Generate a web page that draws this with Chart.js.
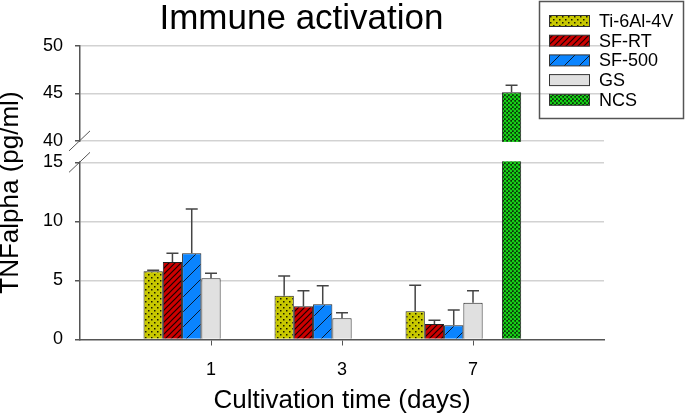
<!DOCTYPE html>
<html>
<head>
<meta charset="utf-8">
<title>Immune activation</title>
<script src="https://cdn.jsdelivr.net/npm/chart.js@4.4.0/dist/chart.umd.min.js"></script>
<style>
  html, body { margin: 0; padding: 0; background: #fff; }
</style>
</head>
<body>
<canvas id="chart" width="685" height="416"></canvas>
<script>
// values (TNFalpha, pg/ml)
const days = ['1', '3', '7'];
const tiValues = [5.78, 3.71, 2.39];
const tiErrors = [0.08, 1.67, 2.2];
const sfrtValues = [6.56, 2.81, 1.31];
const sfrtErrors = [0.74, 1.32, 0.32];
const sf500Values = [7.3, 2.98, 1.2];
const sf500Errors = [3.75, 1.58, 1.3];
const gsValues = [5.18, 1.79, 3.12];
const gsErrors = [0.42, 0.48, 1.01];
const ncsValues = [null, null, 45.1];
const ncsErrors = [null, null, 0.75];
const yTicks = [0, 5, 10, 15, 40, 45, 50];

// axis break: 15..40 is squeezed into a small gap
const BREAK_LOW = 15;
const BREAK_HIGH = 40;
const LOW_FRAC = 0.603;
const HIGH_FRAC = 0.676;

const FONT = '"Liberation Sans", Arial, sans-serif';
Chart.defaults.font.family = FONT;
Chart.defaults.color = '#000';

// empty slots at both ends so the three days sit where they do in the figure
const labels = ['', ...days, ''];
const pad = arr => [null, ...arr, null];

function makePattern(size, draw) {
  const c = document.createElement('canvas');
  c.width = size; c.height = size;
  draw(c.getContext('2d'), size);
  return c.getContext('2d').createPattern(c, 'repeat');
}

const dotsYellow = makePattern(6, (g, s) => {
  g.fillStyle = '#c8c800'; g.fillRect(0, 0, s, s);
  g.fillStyle = '#1a1a00';
  g.fillRect(1, 1, 1.5, 1.5);
  g.fillRect(4, 4, 1.5, 1.5);
});
const hatchRed = makePattern(6, (g, s) => {
  g.fillStyle = '#cc0000'; g.fillRect(0, 0, s, s);
  g.strokeStyle = '#1a0000'; g.lineWidth = 1.2;
  g.beginPath();
  g.moveTo(-1, s + 1); g.lineTo(s + 1, -1);
  g.moveTo(-1, 1); g.lineTo(1, -1);
  g.moveTo(s - 1, s + 1); g.lineTo(s + 1, s - 1);
  g.stroke();
});
const hatchBlue = makePattern(15, (g, s) => {
  g.fillStyle = '#0a84ff'; g.fillRect(0, 0, s, s);
  g.strokeStyle = '#0a1a30'; g.lineWidth = 1;
  g.beginPath();
  g.moveTo(-1, s + 1); g.lineTo(s + 1, -1);
  g.stroke();
});
const checkGreen = makePattern(4, (g, s) => {
  g.fillStyle = '#0a300a'; g.fillRect(0, 0, s, s);
  g.fillStyle = '#16d016';
  g.beginPath(); g.arc(1, 1, 1.4, 0, Math.PI * 2); g.fill();
  g.beginPath(); g.arc(3, 3, 1.4, 0, Math.PI * 2); g.fill();
});

// linear scale with a piecewise mapping for the broken axis
class BrokenScale extends Chart.LinearScale {
  buildTicks() {
    return yTicks.map(v => ({ value: v }));
  }
  toDecimal(v) {
    if (v <= BREAK_LOW) return (v - this.min) / (BREAK_LOW - this.min) * LOW_FRAC;
    if (v >= BREAK_HIGH) return HIGH_FRAC + (v - BREAK_HIGH) / (this.max - BREAK_HIGH) * (1 - HIGH_FRAC);
    return LOW_FRAC + (v - BREAK_LOW) / (BREAK_HIGH - BREAK_LOW) * (HIGH_FRAC - LOW_FRAC);
  }
  getPixelForValue(v) {
    return this.getPixelForDecimal(this.toDecimal(v));
  }
  getValueForPixel(p) {
    const d = this.getDecimalForPixel(p);
    if (d <= LOW_FRAC) return this.min + d / LOW_FRAC * (BREAK_LOW - this.min);
    if (d >= HIGH_FRAC) return BREAK_HIGH + (d - HIGH_FRAC) / (1 - HIGH_FRAC) * (this.max - BREAK_HIGH);
    return BREAK_LOW + (d - LOW_FRAC) / (HIGH_FRAC - LOW_FRAC) * (BREAK_HIGH - BREAK_LOW);
  }
}
BrokenScale.id = 'broken';
BrokenScale.defaults = Chart.LinearScale.defaults;
Chart.register(BrokenScale);

// white band + slashes where the axis is broken
const axisBreak = {
  id: 'axisBreak',
  afterDatasetsDraw(chart) {
    const { ctx, chartArea } = chart;
    const y = chart.scales.y;
    const top = y.getPixelForValue(BREAK_HIGH);
    const bot = y.getPixelForValue(BREAK_LOW);
    ctx.save();
    ctx.fillStyle = '#fff';
    ctx.fillRect(chartArea.left - 2, top + 1, chartArea.right - chartArea.left + 2, bot - top - 2);
    ctx.strokeStyle = '#555';
    ctx.lineWidth = 1;
    ctx.beginPath();
    [top, bot].forEach(p => {
      ctx.moveTo(chartArea.left - 11, p + 10);
      ctx.lineTo(chartArea.left + 10, p - 10);
    });
    ctx.stroke();
    ctx.restore();
  }
};

// upward error bars with caps
const errorBars = {
  id: 'errorBars',
  afterDatasetsDraw(chart) {
    const { ctx } = chart;
    const y = chart.scales.y;
    ctx.save();
    ctx.strokeStyle = '#444';
    ctx.lineWidth = 1.5;
    chart.data.datasets.forEach((ds, i) => {
      if (!ds.errors) return;
      chart.getDatasetMeta(i).data.forEach((bar, j) => {
        const v = ds.data[j], e = ds.errors[j];
        if (v == null || e == null) return;
        const yTop = y.getPixelForValue(v + e);
        ctx.beginPath();
        ctx.moveTo(bar.x, bar.y);
        ctx.lineTo(bar.x, yTop);
        ctx.moveTo(bar.x - 6, yTop);
        ctx.lineTo(bar.x + 6, yTop);
        ctx.stroke();
      });
    });
    ctx.restore();
  }
};

// title and boxed legend in the figure's own places
const decorations = {
  id: 'decorations',
  afterDraw(chart) {
    const { ctx } = chart;
    ctx.save();
    ctx.fillStyle = '#000';
    ctx.font = '35px ' + FONT;
    ctx.textAlign = 'center';
    ctx.textBaseline = 'alphabetic';
    ctx.fillText('Immune activation', 301.5, 29);

    ctx.strokeStyle = '#555';
    ctx.lineWidth = 1.5;
    ctx.strokeRect(539.5, 1.5, 144, 117);
    const items = chart.data.datasets.filter(ds => ds.label);
    ctx.font = '18px ' + FONT;
    ctx.textAlign = 'left';
    ctx.textBaseline = 'middle';
    items.forEach((ds, k) => {
      const cy = 21 + k * 19.7;
      ctx.fillStyle = ds.backgroundColor;
      ctx.fillRect(549, cy - 5.5, 40, 11);
      ctx.strokeStyle = '#333';
      ctx.lineWidth = 1;
      ctx.strokeRect(549.5, cy - 5.5, 40, 11);
      ctx.fillStyle = '#000';
      ctx.fillText(ds.label, 599, cy + 1);
    });
    ctx.restore();
  }
};

const barStyle = { borderColor: '#222', borderWidth: 1, barPercentage: 1, categoryPercentage: 1.03 };

new Chart(document.getElementById('chart'), {
  type: 'bar',
  data: {
    labels,
    datasets: [
      { label: 'Ti-6Al-4V', data: pad(tiValues), errors: pad(tiErrors), backgroundColor: dotsYellow, ...barStyle },
      { label: 'SF-RT', data: pad(sfrtValues), errors: pad(sfrtErrors), backgroundColor: hatchRed, ...barStyle },
      { label: 'SF-500', data: pad(sf500Values), errors: pad(sf500Errors), backgroundColor: hatchBlue, ...barStyle },
      { label: 'GS', data: pad(gsValues), errors: pad(gsErrors), backgroundColor: '#e0e0e0', ...barStyle },
      // empty slot between GS and NCS
      { label: '', data: pad([null, null, null]), ...barStyle },
      { label: 'NCS', data: pad(ncsValues), errors: pad(ncsErrors), backgroundColor: checkGreen, ...barStyle },
      // trailing empty slot keeps GS on the tick
      { label: '', data: pad([null, null, null]), ...barStyle }
    ]
  },
  options: {
    responsive: false,
    animation: false,
    layout: { padding: { top: 45.7, right: 81, left: 0, bottom: 0 } },
    plugins: {
      legend: { display: false },
      title: { display: false },
      tooltip: { enabled: false }
    },
    scales: {
      x: {
        type: 'category',
        offset: false,
        afterFit: s => { s.height = 76.5; },
        border: { color: '#555', width: 1.5 },
        grid: {
          drawOnChartArea: false,
          offset: false,
          tickLength: 6,
          tickColor: c => (c.tick && c.tick.label) ? '#555' : 'rgba(0,0,0,0)'
        },
        ticks: { font: { size: 18 }, padding: 14, maxRotation: 0, autoSkip: false },
        title: { display: true, text: 'Cultivation time (days)', color: '#000', font: { size: 26 }, padding: 0 }
      },
      y: {
        type: 'broken',
        min: 0,
        max: 50,
        afterFit: s => { s.width = 80; },
        border: { color: '#555', width: 1.5 },
        grid: {
          color: c => (c.tick && c.tick.value === 0) ? 'rgba(0,0,0,0)' : '#d2d2d2',
          lineWidth: 1.5,
          tickColor: '#555',
          tickLength: 5
        },
        ticks: { font: { size: 18 }, padding: 12, autoSkip: false, callback: v => String(v) },
        title: { display: true, text: 'TNFalpha (pg/ml)', color: '#000', font: { size: 26, lineHeight: 0.8 }, padding: 0 }
      }
    }
  },
  plugins: [axisBreak, errorBars, decorations]
});
</script>
</body>
</html>
